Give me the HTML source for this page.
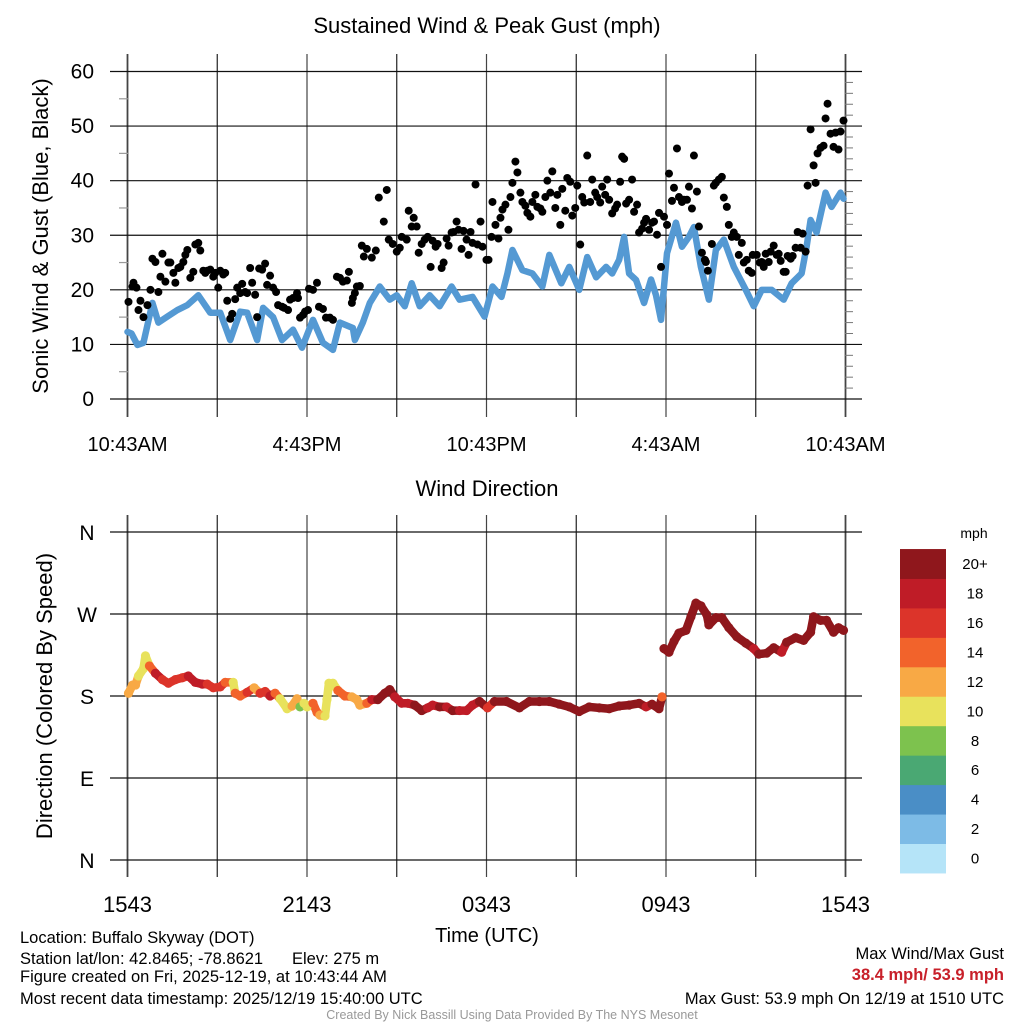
<!DOCTYPE html>
<html><head><meta charset="utf-8"><style>
html,body{margin:0;padding:0;background:#fff;}
svg{display:block;font-family:"Liberation Sans",sans-serif;}
</style></head><body>
<svg id="chart" width="1024" height="1024" viewBox="0 0 1024 1024" xmlns="http://www.w3.org/2000/svg">
<rect x="0" y="0" width="1024" height="1024" fill="#fff"/>
<g id="topg"></g>
<g id="botg"></g>
<g id="cbarg"></g>
<text x="487" y="33" font-size="22" text-anchor="middle">Sustained Wind &amp; Peak Gust (mph)</text>
<text transform="translate(48,236) rotate(-90)" font-size="22" text-anchor="middle">Sonic Wind &amp; Gust (Blue, Black)</text>
<text x="487" y="496" font-size="22" text-anchor="middle">Wind Direction</text>
<text transform="translate(52,696) rotate(-90)" font-size="22" text-anchor="middle">Direction (Colored By Speed)</text>
<text x="487" y="942" font-size="20" text-anchor="middle">Time (UTC)</text>
<text x="974" y="538" font-size="14" text-anchor="middle">mph</text>
<g font-size="16.5">
<text x="20" y="943">Location: Buffalo Skyway (DOT)</text>
<text x="20" y="964">Station lat/lon: 42.8465; -78.8621</text>
<text x="292" y="964">Elev: 275 m</text>
<text x="20" y="982">Figure created on Fri, 2025-12-19, at 10:43:44 AM</text>
<text x="20" y="1004">Most recent data timestamp: 2025/12/19 15:40:00 UTC</text>
</g>
<g font-size="16.5" text-anchor="end">
<text x="1004" y="959">Max Wind/Max Gust</text>
<text x="1004" y="980" fill="#c8202a" font-weight="bold">38.4 mph/ 53.9 mph</text>
<text x="1004" y="1004">Max Gust: 53.9 mph On 12/19 at 1510 UTC</text>
</g>
<text x="512" y="1019" font-size="12.5" fill="#999" text-anchor="middle">Created By Nick Bassill Using Data Provided By The NYS Mesonet</text>
</svg>
<script>
// ---- data ----
const topTickLabels=["10:43AM","4:43PM","10:43PM","4:43AM","10:43AM"];
const botTickLabels=["1543","2143","0343","0943","1543"];
const yTicks=[0,10,20,30,40,50,60];
const dirLabels=["N","E","S","W","N"];
const windMin=[0,8,20,32,50,62,80,100,120,142,166,186,206,226,240,260,272,292,310,332,350,372,392,412,426,452,456,472,486,506,526,540,556,570,586,606,626,650,666,692,716,732,750,762,772,792,812,832,846,870,886,906,922,940,960,972,986,996,1006,1020,1036,1050,1060,1070,1082,1100,1112,1126,1136,1150,1166,1180,1196,1216,1240,1256,1272,1292,1316,1332,1352,1362,1370,1382,1400,1412,1430,1436];
const windVal=[12.3,12,9.9,10.3,17.6,14,15.1,16.3,17.2,19,15.8,15.8,10.8,16,15.8,10.8,16.7,15,10.8,12.7,9.4,14.5,10.3,9,14,13,10.8,14,17.6,20.6,18.2,19,17,21.2,17,19,17,20.6,18.2,18.7,15.1,20.6,18.7,23,27.3,23.6,23,20.6,26.4,21.2,24.2,20,26,22.3,24.2,23,25.5,29.7,23,21.8,17.6,21.9,19,14.5,26.7,32.3,27.9,29.7,31.5,24.2,18.2,27.3,29.2,24.2,20,17,20,20,18.2,21.2,23,27.9,32.8,30.5,37.8,35.2,37.8,36.7];
const gustMin=[2,10,12,18,22,26,32,40,46,50,56,62,66,70,76,82,86,92,96,102,106,112,116,120,126,132,136,142,146,152,156,160,166,172,176,182,186,192,196,200,206,210,216,220,226,230,236,240,246,250,256,260,264,270,276,280,286,292,298,302,310,314,322,326,332,340,342,346,352,356,362,364,372,380,384,392,398,406,412,420,426,432,440,444,450,452,456,460,466,470,474,480,490,498,504,514,520,524,532,540,546,550,560,564,570,574,580,584,590,596,602,608,612,618,622,630,634,640,644,650,654,660,664,670,674,680,684,688,692,698,702,708,712,720,724,730,732,738,744,748,752,758,764,768,772,778,782,788,792,798,802,808,812,818,822,828,832,838,842,848,852,858,862,868,872,878,882,888,892,898,902,908,912,916,922,928,932,938,942,948,952,958,962,966,972,978,982,988,992,996,1000,1006,1012,1016,1022,1026,1032,1036,1040,1046,1052,1056,1062,1066,1070,1076,1082,1086,1092,1096,1102,1106,1112,1116,1122,1126,1132,1136,1142,1146,1152,1158,1160,1164,1172,1176,1180,1186,1192,1196,1202,1206,1212,1216,1222,1226,1232,1236,1242,1246,1252,1254,1262,1268,1272,1276,1280,1286,1290,1296,1302,1306,1310,1316,1320,1324,1330,1334,1340,1344,1350,1354,1360,1364,1370,1376,1380,1384,1390,1396,1400,1404,1410,1416,1420,1426,1430,1436];
const gustVal=[17.8,20.6,21.3,20.4,16.3,18,15,17.2,20,25.7,25.1,19.6,22.4,26.6,21.5,25,25,23.1,21.3,24,24.2,25.1,26.4,27.3,22.2,23.3,28.3,28.6,27.2,23.5,23.1,23.5,23.7,22.4,23.1,20.4,23.5,22.8,23.1,18,14.7,15.6,18.3,20.4,19.4,21.1,19.6,19.4,24,21.3,19.1,15,23.9,23.7,24.8,20.9,22.6,20.4,19.6,17.2,16.9,16.7,16.3,18.2,18.5,19.4,18.5,14.9,15.4,16,16.3,20.2,20,21.3,16.9,16.5,14.9,14.9,14.5,22.4,22.2,21.5,21.7,23.3,17.6,18.5,19.4,20.6,20.7,28.1,26.1,27.5,25.9,27.2,36.9,32.5,38.3,29.2,28.4,27,27.7,29.7,29.2,34.5,31.6,33.2,31.6,26.8,28.4,29.2,29.7,24.2,29,27.9,28.4,24,25,29.4,28.1,30.5,30.6,32.5,31,27.5,30.8,29.2,26.4,30.6,28.6,39.3,28.3,32.5,27.9,25.5,25.5,29.7,36.1,31.9,29.4,33.2,34.7,35.6,31,37,39.6,43.5,41.5,37.8,36.1,35.4,34.1,33.4,36.1,37.4,35.2,34.9,34.3,37,40,37.8,41.7,35,37.4,31.9,38.5,34.5,40.5,39.8,33.6,35,39.1,28.3,37,36,44.6,36.1,40.2,37.8,37,36,38.9,37.4,40.2,36.5,34,34.9,35.6,39.8,44.4,44,35.8,36.5,40.2,34.3,35.6,30.5,31.2,32.3,33,31,32.3,32.5,30.1,34.1,24.2,33.4,31.9,41.3,36.3,38.7,45.9,37,36.1,36.5,36.5,38.9,34.9,44.6,38,31.6,26.8,25.5,25.1,23.5,28.4,39.1,39.6,40.2,40.7,36.9,35.2,31.9,29.7,30.5,29.7,26.4,28.6,25,25.5,23.5,23.1,26.4,26.4,25,25.1,24.2,26.6,25.1,27,28.1,26.4,26.6,25.3,23.3,23.3,26.2,25.7,26.2,27.7,30.6,27.7,30.3,27,39.1,49.4,42.8,39.6,45,46,46.4,51.4,54.1,48.6,46.2,48.8,45.7,49,51];
const dirMin=[2,10,16,22,32,36,44,56,70,82,96,110,122,136,150,160,172,186,196,212,216,226,240,254,266,276,286,296,306,320,330,340,346,354,360,372,380,386,396,400,404,412,422,436,450,460,466,480,490,502,516,526,536,550,562,576,590,602,612,626,640,652,666,680,692,706,722,736,760,786,806,826,846,866,886,906,926,946,966,986,1006,1026,1040,1052,1066,1072,1076,1086,1096,1106,1120,1130,1140,1150,1162,1166,1180,1192,1206,1222,1240,1256,1266,1282,1296,1312,1322,1340,1356,1370,1376,1390,1402,1416,1426,1436];
const dirDeg=[183,192,192,202,210,224,213,205,198,194,198,200,202,195,193,193,189,190,195,195,183,180,184,189,183,185,180,183,177,166,169,177,168,172,168,172,162,159,158,176,194,194,186,180,179,176,170,172,176,176,183,187,179,172,172,170,164,167,170,168,168,164,164,164,170,174,167,174,174,167,174,174,174,171,168,163,168,167,166,169,170,172,168,171,166,179,232,228,240,249,252,267,282,279,269,258,266,266,255,245,238,232,226,227,233,228,239,244,241,250,267,263,263,250,255,252];
const dirSpd=[12,12,12,10,10,10,14,18,16,16,16,16,18,18,18,16,16,16,14,10,14,14,16,12,16,16,18,14,10,10,12,12,8,10,10,14,14,12,10,10,10,10,14,14,12,12,12,14,18,20,20,20,18,18,18,20,20,18,18,20,18,20,18,18,18,20,16,20,20,20,20,20,20,20,20,20,20,20,20,20,20,20,18,20,20,14,20,20,20,20,20,20,20,20,20,20,20,20,20,20,20,18,20,20,20,18,20,20,20,20,20,20,20,20,20,20];
const binLabels=["0","2","4","6","8","10","12","14","16","18","20+"];
const binColors=["#b5e4f8","#7dbbe6","#4a8ec6","#4aa873","#7dc24e","#e8e25c","#f8a945","#f2632b","#dc342a","#bf1c27","#8f171c"];

// ---- axes ----
const NS="http://www.w3.org/2000/svg";
const X0=127.5,X1=845.5;
const xS=m=>X0+(X1-X0)*m/1440;
const yTop=v=>399-v*(399-71.5)/60;
const yDir=d=>860-d*(860-532)/360;
function mk(tag,attrs,parent){const e=document.createElementNS(NS,tag);for(const k in attrs)e.setAttribute(k,attrs[k]);parent.appendChild(e);return e;}
const topG=document.getElementById('topg'),botG=document.getElementById('botg'),cbG=document.getElementById('cbarg');

// top grid
for(let i=0;i<=8;i++){const x=X0+(X1-X0)*i/8;const l=mk('line',{x1:x,x2:x,y1:54,y2:417,stroke:(i%2?'#222':'#444'),'stroke-width':(i==0||i==8)?1.8:1.2},topG);

}
yTicks.forEach(v=>{const y=yTop(v);const l=mk('line',{x1:110,x2:862,y1:y,y2:y,stroke:'#111','stroke-width':1.2},topG);


const t=mk('text',{x:94,y:y+7,'font-size':21,'text-anchor':'end'},topG);t.textContent=v;

});
for(let v=5;v<60;v+=10){const y=yTop(v);mk('line',{x1:119,x2:128,y1:y,y2:y,stroke:'#999','stroke-width':1.2},topG);}
for(let v=2;v<60;v+=2){if(v%10==0)continue;const y=yTop(v);mk('line',{x1:845,x2:853,y1:y,y2:y,stroke:'#777','stroke-width':1},topG);}
topTickLabels.forEach((s,i)=>{const t=mk('text',{x:X0+(X1-X0)*i/4,y:451,'font-size':20,'text-anchor':'middle'},topG);t.textContent=s;

});

// sustained line
const pl=mk('polyline',{points:windMin.map((m,i)=>xS(m)+','+yTop(windVal[i])).join(' '),fill:'none',stroke:'#5499d3','stroke-width':6.5,'stroke-linejoin':'round','stroke-linecap':'round'},topG);


gustMin.forEach((m,i)=>{const c=mk('circle',{cx:xS(m),cy:yTop(gustVal[i]),r:4,fill:'#000'},topG);

});

// bottom grid
for(let i=0;i<=8;i++){const x=X0+(X1-X0)*i/8;const l=mk('line',{x1:x,x2:x,y1:515,y2:877,stroke:(i%2?'#222':'#444'),'stroke-width':(i==0||i==8)?1.8:1.2},botG);

}
dirLabels.forEach((s,i)=>{const y=yDir(i*90);const l=mk('line',{x1:110,x2:862,y1:y,y2:y,stroke:'#111','stroke-width':1.2},botG);


const t=mk('text',{x:87,y:y+8,'font-size':21,'text-anchor':'middle'},botG);t.textContent=s;

});
botTickLabels.forEach((s,i)=>{const t=mk('text',{x:X0+(X1-X0)*i/4,y:912,'font-size':22,'text-anchor':'middle'},botG);t.textContent=s;

});
const bin=s=>Math.min(10,Math.floor(s/2));
for(let i=0;i<dirMin.length-1;i++){if(Math.abs(dirDeg[i+1]-dirDeg[i])>30)continue;
const l=mk('line',{x1:xS(dirMin[i]),y1:yDir(dirDeg[i]),x2:xS(dirMin[i+1]),y2:yDir(dirDeg[i+1]),stroke:binColors[bin(dirSpd[i])],'stroke-width':8.5,'stroke-linecap':'round'},botG);

}
dirMin.forEach((m,i)=>{const c=mk('circle',{cx:xS(m),cy:yDir(dirDeg[i]),r:4.6,fill:binColors[bin(dirSpd[i])]},botG);

});

// colorbar
binColors.forEach((c,i)=>{const y0=873-(i+1)*29.45;const r=mk('rect',{x:900,y:y0,width:46,height:29.9,fill:c},cbG);


const t=mk('text',{x:975,y:y0+20,'font-size':15,'text-anchor':'middle'},cbG);t.textContent=binLabels[i];

});
</script>
</body></html>
